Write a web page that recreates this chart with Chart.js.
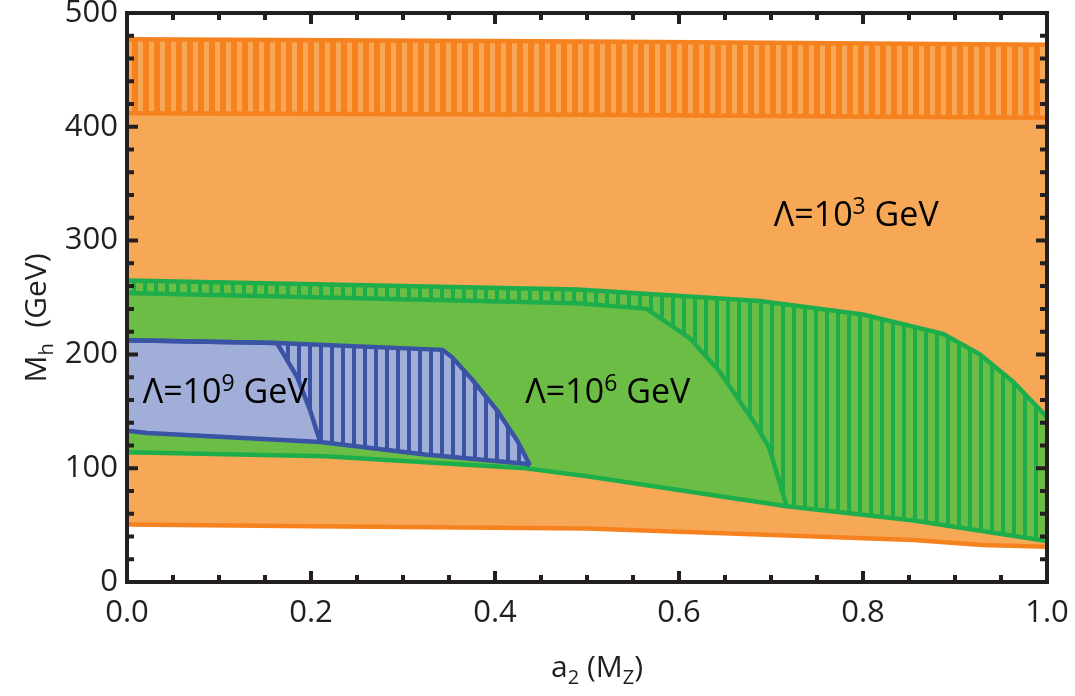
<!DOCTYPE html>
<html lang="en">
<head>
<meta charset="UTF-8">
<title>Mh bands vs a2(MZ)</title>
<script src="https://cdn.jsdelivr.net/npm/chart.js"></script>
<style>
  html, body { margin: 0; padding: 0; background: #fff; }
</style>
</head>
<body>
<canvas id="chart" width="1075" height="696"></canvas>
<script>
// region boundaries: x = a2(MZ), y = Mh (GeV)
const orangeLowX = [0, 0.2, 0.5, 0.71, 0.855, 0.93, 1.0];
const orangeLowY = [50.5, 49, 47, 41, 37, 32.5, 31];
const orangeTopX = [0, 0.5, 1.0];
const orangeTopY = [477, 475, 472];
const orangeHatchX = [0, 0.5, 1.0];
const orangeHatchY = [412, 410.5, 408];

const greenLowX = [0, 0.215, 0.433, 0.5, 0.717, 0.855, 1.0];
const greenLowY = [114, 110.5, 100, 93, 66.5, 54, 36];
const greenTopX = [0, 0.49, 0.688, 0.8, 0.887, 0.927, 0.963, 1.0];
const greenTopY = [265, 257, 247, 235, 218, 200, 176, 145];
const greenInnerX = [0, 0.49, 0.565, 0.612, 0.643, 0.682, 0.698, 0.717];
const greenInnerY = [254, 245, 240, 214, 186, 140, 118, 66.5];

const blueLowX = [0, 0.022, 0.21, 0.324, 0.433, 0.438];
const blueLowY = [133, 131, 123, 112, 104, 102.5];
const blueTopX = [0, 0.163, 0.343, 0.354, 0.376, 0.402, 0.424, 0.438];
const blueTopY = [212.5, 210, 204, 197, 177, 151, 124.5, 102.5];
const blueInnerX = [0, 0.163, 0.185, 0.199, 0.21];
const blueInnerY = [212.5, 210, 180, 151, 123];

// region labels: Lambda = 10^n GeV
const labelExp = ['3', '6', '9'];
const labelX = [0.703, 0.433, 0.017];
const labelY = [312.7, 157, 157];

const xMajor = [0, 0.2, 0.4, 0.6, 0.8, 1.0];
const xMinor = [0.05, 0.1, 0.15, 0.25, 0.3, 0.35, 0.45, 0.5, 0.55, 0.65, 0.7, 0.75, 0.85, 0.9, 0.95];
const yMajor = [0, 100, 200, 300, 400, 500];
const yMinor = [20, 40, 60, 80, 120, 140, 160, 180, 220, 240, 260, 280, 320, 340, 360, 380, 420, 440, 460, 480];

const ORANGE_FILL = '#F7A857', ORANGE_LINE = '#F6821F';
const GREEN_FILL = '#6CBD45', GREEN_LINE = '#1DAE4B';
const BLUE_FILL = '#A0AED8', BLUE_LINE = '#3A53A4';
const INK = '#231F20';
const FONT = '"Open Sans", "Liberation Sans", sans-serif';

const ctx = document.getElementById('chart').getContext('2d');

function stripes(light, dark, darkW) {
    const c = document.createElement('canvas');
    c.width = 11; c.height = 4;
    const g = c.getContext('2d');
    g.fillStyle = light; g.fillRect(0, 0, 11, 4);
    g.fillStyle = dark; g.fillRect(0, 0, darkW, 4);
    return ctx.createPattern(c, 'repeat');
}

const pts = (xs, ys) => xs.map((x, i) => ({ x: x, y: ys[i] }));

function curve(xs, ys, line, fillTo, bg, layer) {
    return {
        data: pts(xs, ys),
        borderColor: line,
        borderWidth: 4.5,
        pointRadius: 0,
        tension: 0,
        fill: fillTo === null ? false : { target: fillTo },
        backgroundColor: bg,
        order: 20 - layer
    };
}

const datasets = [
    curve(orangeLowX, orangeLowY, ORANGE_LINE, null, ORANGE_FILL, 0),                              // 0
    curve(orangeTopX, orangeTopY, ORANGE_LINE, 0, ORANGE_FILL, 1),                                 // 1
    curve(orangeHatchX, orangeHatchY, ORANGE_LINE, 1, stripes(ORANGE_FILL, ORANGE_LINE, 6), 2),    // 2
    curve(greenLowX, greenLowY, GREEN_LINE, null, GREEN_FILL, 3),                                  // 3
    curve(greenTopX, greenTopY, GREEN_LINE, 3, stripes(GREEN_FILL, GREEN_LINE, 4), 4),             // 4
    curve(greenInnerX, greenInnerY, GREEN_LINE, 3, GREEN_FILL, 5),                                 // 5
    curve(blueLowX, blueLowY, BLUE_LINE, null, BLUE_FILL, 6),                                      // 6
    curve(blueTopX, blueTopY, BLUE_LINE, 6, stripes(BLUE_FILL, BLUE_LINE, 4), 7),                  // 7
    curve(blueInnerX, blueInnerY, BLUE_LINE, 6, BLUE_FILL, 8)                                      // 8
];

// text with sub/superscript pieces: [text, shift] shift: 0 normal, 1 sup, -1 sub
function richText(c, parts, x, y, size, align) {
    const small = Math.round(size * 0.68);
    let w = 0;
    parts.forEach(p => {
        c.font = (p[1] ? small : size) + 'px ' + FONT;
        w += c.measureText(p[0]).width;
    });
    let cx = align === 'center' ? x - w / 2 : x;
    c.textAlign = 'left';
    c.textBaseline = 'alphabetic';
    parts.forEach(p => {
        c.font = (p[1] ? small : size) + 'px ' + FONT;
        const dy = p[1] === 1 ? -size * 0.36 : (p[1] === -1 ? size * 0.22 : 0);
        c.fillText(p[0], cx, y + dy);
        cx += c.measureText(p[0]).width;
    });
}

const decorations = {
    id: 'decorations',
    afterDraw(chart) {
        const c = chart.ctx;
        const a = chart.chartArea;
        const xs = chart.scales.x, ys = chart.scales.y;
        c.save();
        c.fillStyle = '#000';
        labelExp.forEach((e, i) => {
            richText(c, [['\u039B=10', 0], [e, 1], [' GeV', 0]],
                xs.getPixelForValue(labelX[i]), ys.getPixelForValue(labelY[i]), 34, 'left');
        });

        // frame and inward ticks on all four sides
        c.strokeStyle = INK;
        c.lineWidth = 4;
        c.strokeRect(a.left, a.top, a.right - a.left, a.bottom - a.top);
        c.beginPath();
        const tickX = (v, len) => {
            const p = xs.getPixelForValue(v);
            c.moveTo(p, a.bottom); c.lineTo(p, a.bottom - len);
            c.moveTo(p, a.top); c.lineTo(p, a.top + len);
        };
        const tickY = (v, len) => {
            const p = ys.getPixelForValue(v);
            c.moveTo(a.left, p); c.lineTo(a.left + len, p);
            c.moveTo(a.right, p); c.lineTo(a.right - len, p);
        };
        xMajor.forEach(v => tickX(v, 11));
        xMinor.forEach(v => tickX(v, 7));
        yMajor.forEach(v => tickY(v, 11));
        yMinor.forEach(v => tickY(v, 7));
        c.stroke();

        // axis titles
        c.fillStyle = INK;
        richText(c, [['a', 0], ['2', -1], [' (M', 0], ['Z', -1], [')', 0]], 597, 677, 30, 'center');
        c.translate(46, 318);
        c.rotate(-Math.PI / 2);
        richText(c, [['M', 0], ['h', -1], ['  (GeV)', 0]], 0, 0, 30, 'center');
        c.restore();
    }
};

new Chart(ctx, {
    type: 'line',
    data: { datasets: datasets },
    options: {
        responsive: false,
        animation: false,
        devicePixelRatio: 1,
        layout: { padding: { top: 13, right: 28, left: 0, bottom: 0 } },
        plugins: {
            legend: { display: false },
            tooltip: { enabled: false },
            filler: { drawTime: 'beforeDatasetsDraw' }
        },
        scales: {
            x: {
                type: 'linear', min: 0, max: 1,
                grid: { display: false, drawTicks: false },
                border: { display: false },
                ticks: {
                    stepSize: 0.2, autoSkip: false, maxRotation: 0, padding: 13,
                    color: INK, font: { family: FONT, size: 31 },
                    callback: v => v.toFixed(1)
                },
                afterFit: s => { s.height = 114; s.paddingLeft = 0; s.paddingRight = 0; }
            },
            y: {
                type: 'linear', min: 0, max: 500,
                grid: { display: false, drawTicks: false },
                border: { display: false },
                ticks: {
                    stepSize: 100, padding: 9,
                    color: INK, font: { family: FONT, size: 31 }
                },
                afterFit: s => { s.width = 127; s.paddingTop = 0; s.paddingBottom = 0; }
            }
        }
    },
    plugins: [decorations]
});
</script>
</body>
</html>
